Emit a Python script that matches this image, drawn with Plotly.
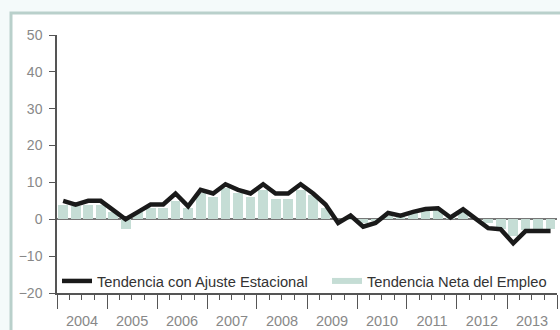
import plotly.graph_objects as go

years = [2004, 2005, 2006, 2007, 2008, 2009, 2010, 2011, 2012, 2013]
quarter_mid = ["02-15", "05-16", "08-16", "11-15"]

# Tendencia con Ajuste Estacional (line), one value per quarter
trend_sa = [5, 4, 5, 5,
            2.5, 0, 2, 4,
            4, 7, 3.5, 8,
            7, 9.5, 8, 7,
            9.5, 7, 7, 9.5,
            7, 4, -1, 1,
            -2, -1, 1.7, 1,
            2, 2.8, 3, 0.5,
            2.7, 0.3, -2.4, -2.7,
            -6.5, -3.2, -3.2, -3.2]

# Tendencia Neta del Empleo (bars), one value per quarter
net_trend = [4, 3.5, 4, 4,
             2, -2.5, 2, 3,
             3, 5, 3, 7,
             6, 8.5, 7, 6,
             8, 5.5, 5.5, 8,
             6.5, 3, 0, 0.5,
             -1, -0.5, 1, 1,
             2, 2.5, 2.5, 1,
             2, 0, -1, -2.5,
             -4.5, -3, -3, -2.7]

y_ticks = [50, 40, 30, 20, 10, 0, -10, -20]

quarters = [f"{y}-{q}" for y in years for q in quarter_mid]

line_name = "Tendencia con Ajuste Estacional"
bar_name = "Tendencia Neta del Empleo"
bar_color = "#c5ddd5"

fig = go.Figure()
fig.add_trace(go.Bar(x=quarters, y=net_trend, marker_color=bar_color,
                     marker_line_width=0, width=72 * 86400000,
                     showlegend=False, name=bar_name))
fig.add_trace(go.Scatter(x=quarters, y=trend_sa, mode="lines",
                         line=dict(color="#1a1a1a", width=4.5),
                         name=line_name, legend="legend"))
fig.add_trace(go.Scatter(x=[None], y=[None], mode="lines",
                         line=dict(color=bar_color, width=6),
                         name=bar_name, legend="legend2"))

legend_style = dict(orientation="h", y=0.045, xanchor="left", yanchor="middle",
                    bgcolor="rgba(0,0,0,0)", font=dict(size=14.7, color="#333"),
                    itemwidth=30)

fig.update_layout(
    width=560, height=330,
    margin=dict(l=57, r=3, t=35, b=37),
    paper_bgcolor="#f4fafa",
    plot_bgcolor="rgba(0,0,0,0)",
    bargap=0,
    font=dict(family="Liberation Sans, Arial, sans-serif", color="#888"),
    legend=dict(x=0.0, **legend_style),
    legend2=dict(x=0.54, **legend_style),
    shapes=[dict(type="rect", xref="paper", yref="paper",
                 x0=-0.092, x1=1.2, y0=-0.3, y1=1.085,
                 line=dict(color="#b9d0cb", width=3), fillcolor="white",
                 layer="below")],
)

fig.update_xaxes(
    type="date", range=["2004-01-01", "2014-01-01"], automargin=False,
    showgrid=False, showline=True, linecolor="#555", linewidth=1.5,
    dtick="M12", tick0="2004-01-01", ticklabelmode="period", tickformat="%Y",
    ticks="outside", ticklen=14, tickcolor="#555", tickwidth=1.2,
    tickfont=dict(size=14.5, color="#888"),
    minor=dict(dtick="M3", ticks="outside", ticklen=5, tickcolor="#555",
               tickwidth=1, showgrid=False),
    zeroline=False,
)
fig.update_yaxes(
    range=[-20, 50], tickvals=y_ticks, showgrid=False, automargin=False,
    showline=True, linecolor="#555", linewidth=1.5,
    ticks="outside", ticklen=6, tickcolor="#555", tickwidth=1.2,
    ticklabelstandoff=4,
    tickfont=dict(size=14, color="#888"),
    zeroline=True, zerolinecolor="#777", zerolinewidth=1.5,
)

fig.write_html("out.html", config={"displayModeBar": False},
               post_script="document.body.style.margin='0';")
